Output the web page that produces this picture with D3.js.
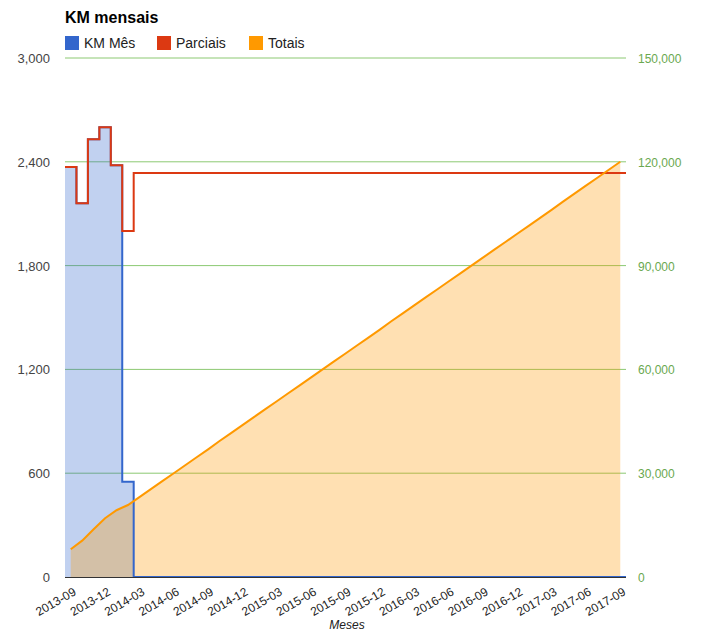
<!DOCTYPE html>
<html><head><meta charset="utf-8">
<script src="https://cdnjs.cloudflare.com/ajax/libs/d3/7.8.5/d3.min.js"></script>
<style>body{margin:0;background:#fff;font-family:Arial,"Liberation Sans",sans-serif}</style>
</head><body><svg id="c" width="727" height="634"></svg>
<script>
const months=[];
for(let y=2013,m=9;!(y===2017&&m===10);){months.push(y+"-"+String(m).padStart(2,"0"));m++;if(m>12){m=1;y++;}}
const kmMes=[2370,2160,2530,2600,2380,550].concat(new Array(43).fill(0));
const parciais=[2370,2160,2530,2600,2380,2000].concat(new Array(43).fill(2335));
const totais=[8000,10500,13800,17000,19300,20800,23100,25400,27700,30000,32300,34600,36900,39300,41600,43900,46200,48500,50800,53100,55400,57700,60000,62300,64600,66900,69200,71500,73900,76200,78500,80800,83100,85400,87700,90000,92300,94600,96900,99200,101500,103800,106100,108500,110800,113100,115400,117700,120000];
const leftTicks=[0,600,1200,1800,2400,3000];
const rightTicks=[0,30000,60000,90000,120000,150000];
const legend=[["KM Mês","#3366cc"],["Parciais","#dc3912"],["Totais","#ff9900"]];

const svg=d3.select("#c");
const L=65,R=626,T=58,B=577;
const x=d3.scaleBand().domain(months).range([L,R]);
const yl=d3.scaleLinear().domain([0,3000]).range([B,T]);
const yr=d3.scaleLinear().domain([0,150000]).range([B,T]);
const fmt=d3.format(",");

svg.append("text").attr("x",65).attr("y",23).attr("font-size",16).attr("font-weight","bold").text("KM mensais");
legend.forEach((d,i)=>{const g=svg.append("g").attr("transform",`translate(${65+i*92},36)`);
 g.append("rect").attr("width",14).attr("height",14).attr("fill",d[1]);
 g.append("text").attr("x",19).attr("y",12).attr("font-size",14).attr("fill","#222").text(d[0]);});

svg.append("g").selectAll("line").data(leftTicks.slice(1)).join("line")
 .attr("x1",L).attr("x2",R).attr("y1",d=>yl(d)).attr("y2",d=>yl(d)).attr("stroke","#8cc972").attr("stroke-width",1);

// stepped series
function stepPts(vals){const p=[];vals.forEach((v,i)=>{p.push([x(months[i]),yl(v)]);p.push([x(months[i])+x.bandwidth(),yl(v)]);});return p;}
const bp=stepPts(kmMes);
svg.append("path").attr("d",d3.area().x(d=>d[0]).y0(B).y1(d=>d[1])(bp)).attr("fill","#3366cc").attr("fill-opacity",0.3);
const cx=m=>x(m)+x.bandwidth()/2;
svg.append("path").attr("d",d3.area().x((d,i)=>cx(months[i])).y0(B).y1(d=>yr(d))(totais)).attr("fill","#ff9900").attr("fill-opacity",0.3);
svg.append("path").attr("d",d3.line().x(d=>d[0]).y(d=>d[1])(bp)).attr("fill","none").attr("stroke","#3366cc").attr("stroke-width",2);
svg.append("path").attr("d",d3.line().x(d=>d[0]).y(d=>d[1])(stepPts(parciais))).attr("fill","none").attr("stroke","#dc3912").attr("stroke-width",2);
svg.append("path").attr("d",d3.line().x((d,i)=>cx(months[i])).y(d=>yr(d))(totais)).attr("fill","none").attr("stroke","#ff9900").attr("stroke-width",2);

svg.append("line").attr("x1",L).attr("x2",R).attr("y1",B+0.5).attr("y2",B+0.5).attr("stroke","#333");

svg.append("g").selectAll("text").data(leftTicks).join("text").attr("x",L-15).attr("y",d=>yl(d)+5)
 .attr("text-anchor","end").attr("font-size",13).attr("fill","#444").text(fmt);
svg.append("g").selectAll("text").data(rightTicks).join("text").attr("x",R+12).attr("y",d=>yr(d)+5)
 .attr("font-size",12).attr("fill","#6aa84f").text(fmt);
svg.append("g").selectAll("text").data(months.filter((m,i)=>i%3===0)).join("text")
 .attr("transform",d=>`translate(${cx(d)+2},${B+10}) rotate(-30)`).attr("text-anchor","end").attr("dy","0.7em")
 .attr("font-size",12).attr("fill","#222").text(d=>d);
svg.append("text").attr("x",347).attr("y",629).attr("text-anchor","middle").attr("font-size",12).attr("font-style","italic").attr("fill","#222").text("Meses");
</script></body></html>
